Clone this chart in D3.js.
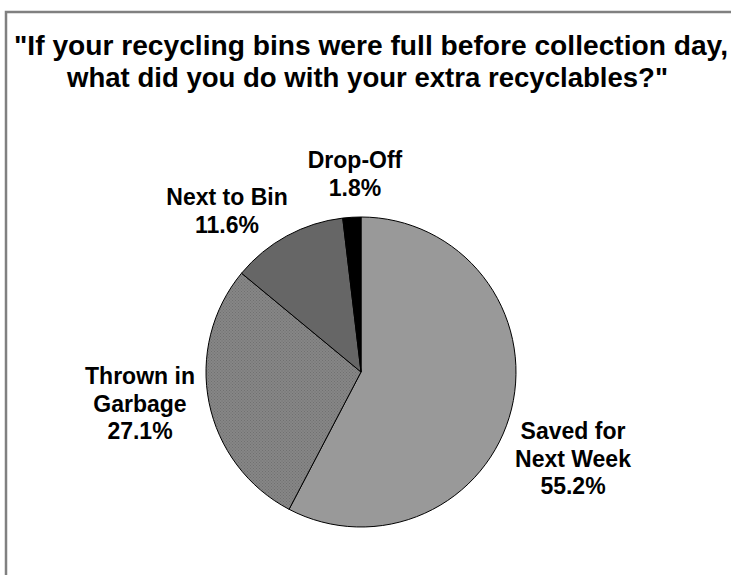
<!DOCTYPE html>
<html><head><meta charset="utf-8">
<script src="https://cdn.jsdelivr.net/npm/d3@7"></script>
<style>html,body{margin:0;padding:0;background:#fff;}svg{display:block;}</style>
</head><body>
<script>
const categories = ["Saved for Next Week", "Thrown in Garbage", "Next to Bin", "Drop-Off"];
const values = [55.2, 27.1, 11.6, 1.8];
const labelLines = [["Saved for", "Next Week"], ["Thrown in", "Garbage"], ["Next to Bin"], ["Drop-Off"]];
const titleLines = ["\"If your recycling bins were full before collection day,", "what did you do with your extra recyclables?\""];

const W = 731, H = 575;
const svg = d3.select("body").append("svg").attr("width", W).attr("height", H);

const defs = svg.append("defs");
const pat = defs.append("pattern").attr("id", "dots").attr("patternUnits", "userSpaceOnUse")
  .attr("width", 3).attr("height", 3);
pat.append("rect").attr("width", 3).attr("height", 3).attr("fill", "#868686");
pat.append("rect").attr("x", 0).attr("y", 0).attr("width", 1).attr("height", 1).attr("fill", "#707070");
pat.append("rect").attr("x", 1.5).attr("y", 1.5).attr("width", 1).attr("height", 1).attr("fill", "#707070");

// frame
svg.append("path").attr("d", "M6,575 V12 H731").attr("fill", "none").attr("stroke", "#808080").attr("stroke-width", 2.5);

const font = "'Liberation Sans', Arial, sans-serif";
const titleX = [[14, 728], [67, 668]];
const titleY = [55, 87];
svg.append("g").selectAll("text").data(titleLines).join("text")
  .attr("x", (d, i) => titleX[i][0]).attr("y", (d, i) => titleY[i])
  .attr("textLength", (d, i) => titleX[i][1] - titleX[i][0]).attr("lengthAdjust", "spacingAndGlyphs")
  .attr("font-family", font).attr("font-weight", "bold")
  .attr("font-size", 27).attr("fill", "#000").text(d => d);

const cx = 361, cy = 372, r = 155;
const fills = ["#999999", "url(#dots)", "#666666", "#000000"];
const pie = d3.pie().sort(null).value(d => d)(values);
const arc = d3.arc().innerRadius(0).outerRadius(r);
const g = svg.append("g").attr("transform", `translate(${cx},${cy})`);
g.selectAll("path").data(pie).join("path")
  .attr("d", arc).attr("fill", (d, i) => fills[i]).attr("stroke", "#000").attr("stroke-width", 1);

const labelPos = [[573, 439], [140, 384], [227, 205], [355, 168]];
const lg = svg.append("g").attr("font-family", font).attr("font-weight", "bold").attr("font-size", 23).attr("fill", "#000");
categories.forEach((c, i) => {
  const lines = labelLines[i].concat([values[i].toFixed(1) + "%"]);
  lg.append("text").attr("text-anchor", "middle")
    .selectAll("tspan").data(lines).join("tspan")
    .attr("x", labelPos[i][0]).attr("y", (d, k) => labelPos[i][1] + k * 27.5)
    .text(d => d);
});
</script>
</body></html>
